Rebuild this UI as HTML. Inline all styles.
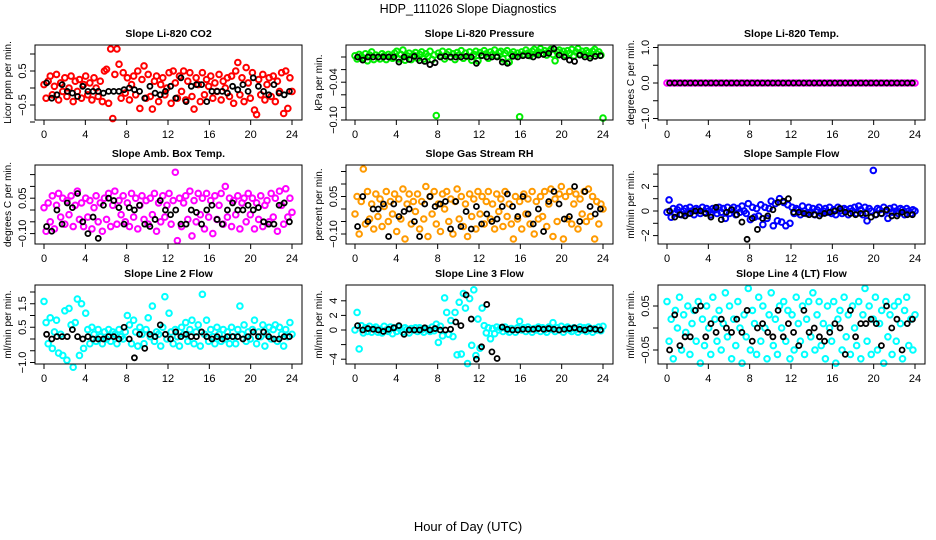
<!DOCTYPE html>
<html><head><meta charset="utf-8"><style>
html,body{margin:0;padding:0;background:#fff}
svg{display:block}
text{font-family:"Liberation Sans",sans-serif;fill:#000}
</style></head><body>
<svg id="chart" width="936" height="540" viewBox="0 0 936 540" xmlns="http://www.w3.org/2000/svg">
<text x="468" y="13" text-anchor="middle" font-size="12.5">HDP_111026  Slope Diagnostics</text>
<text x="468" y="531" text-anchor="middle" font-size="13">Hour of Day (UTC)</text>
<g id="panels"></g>
</svg>
<script>
const xTicks=[0,4,8,12,16,20,24];
const co2Color=[0.1,-0.3,0.2,0.35,-0.2,0.05,0.4,-0.35,0.15,-0.1,0.3,-0.25,0.0,0.35,-0.4,0.2,-0.1,0.25,-0.3,0.1,0.35,-0.2,0.15,-0.35,0.3,0.0,-0.25,0.2,-0.4,0.5,0.55,-0.45,1.15,-0.9,0.4,1.15,0.7,-0.3,0.45,-0.15,0.3,-0.35,0.1,0.35,-0.2,0.5,-0.6,0.25,0.65,-0.3,0.4,-0.25,-0.62,0.2,0.35,-0.4,0.1,0.3,-0.2,0.0,0.45,-0.45,0.5,0.15,-0.3,0.35,-0.1,0.5,-0.35,0.2,0.45,-0.25,-0.62,0.3,0.1,-0.4,0.45,-0.2,0.25,0.05,0.35,-0.3,0.15,-0.1,0.4,-0.35,0.2,0.0,0.3,-0.25,0.35,-0.45,0.5,0.75,-0.2,0.3,-0.4,0.6,0.15,-0.3,0.45,-0.65,-0.78,0.25,-0.2,0.4,-0.35,0.1,0.3,-0.25,0.35,-0.4,0.2,-0.1,0.45,-0.75,0.5,-0.6,0.3,-0.1];
const co2Black=[0.15,-0.3,-0.2,0.1,-0.1,-0.15,-0.25,0.05,-0.1,-0.1,-0.1,-0.15,-0.1,-0.1,-0.1,-0.05,0.0,-0.05,-0.1,-0.3,0.05,-0.15,-0.2,-0.1,0.05,-0.3,0.3,-0.4,0.05,0.1,0.1,-0.4,-0.1,-0.1,-0.1,-0.15,0.05,-0.05,0.1,-0.1,0.3,0.05,-0.1,-0.2,0.1,-0.15,-0.2,-0.1];
const presColor=[0.002,-0.003,0.004,0.001,-0.002,0.005,-0.006,0.003,0.008,-0.004,0.003,0.000,-0.003,0.005,0.002,-0.004,0.004,0.001,-0.002,0.006,0.009,-0.003,0.004,0.011,-0.005,0.002,0.006,-0.004,0.003,0.007,-0.002,0.004,0.008,-0.003,0.005,0.001,0.009,-0.004,0.003,-0.093,0.006,0.002,0.009,-0.003,0.004,0.008,0.000,0.005,-0.004,0.007,0.003,0.010,-0.002,0.006,0.001,0.008,-0.005,0.004,0.009,-0.006,0.007,0.003,0.010,0.005,-0.002,0.008,0.004,0.011,0.002,0.007,0.009,-0.003,0.006,0.010,-0.008,0.004,0.008,0.002,0.006,-0.095,0.008,0.004,0.011,0.006,0.002,0.009,0.012,0.005,0.008,0.013,0.006,0.010,0.003,0.009,0.012,0.004,-0.006,0.008,0.011,0.005,0.009,0.003,0.010,0.006,0.012,0.002,0.008,0.013,0.005,0.009,0.004,0.010,0.007,0.002,0.009,0.012,0.005,0.008,0.003,-0.097];
const presBlack=[0,-0.005,0,0,0,0,0,0,-0.008,0,-0.004,0.001,-0.006,-0.007,-0.012,-0.009,0,0.001,0,0,0,0.001,0,-0.01,0.002,0,0,0,-0.008,-0.01,0.001,0,0.002,0.002,0,0.003,0.004,0.006,0.013,0.003,0,-0.005,-0.007,0.003,0,-0.002,0.001,0.002];
const tempColor=[0,0,0,0,0,0,0,0,0,0,0,0,0,0,0,0,0,0,0,0,0,0,0,0,0,0,0,0,0,0,0,0,0,0,0,0,0,0,0,0,0,0,0,0,0,0,0,0,0,0,0,0,0,0,0,0,0,0,0,0,0,0,0,0,0,0,0,0,0,0,0,0];
const tempBlack=[0,0,0,0,0,0,0,0,0,0,0,0,0,0,0,0,0,0,0,0,0,0,0,0,0,0,0,0,0,0,0,0,0,0,0,0,0,0,0,0,0,0,0,0,0,0,0,0];
const ambColor=[0.01,-0.09,0.03,-0.05,0.06,-0.08,0.02,0.07,-0.03,0.05,-0.06,0.04,-0.02,0.06,-0.07,0.02,0.08,-0.04,0.03,-0.07,0.05,-0.03,0.04,-0.08,0.01,0.06,-0.05,0.03,-0.09,0.05,-0.04,0.07,-0.07,0.02,0.08,-0.06,0.04,-0.02,0.06,-0.05,0.03,-0.07,0.07,-0.03,0.05,-0.08,0.02,0.06,-0.04,0.04,-0.06,0.05,-0.02,0.07,-0.09,0.03,-0.05,0.06,-0.03,0.02,0.07,-0.06,0.04,0.16,-0.13,0.05,-0.07,0.03,0.06,-0.04,0.08,-0.11,0.04,-0.05,0.07,-0.02,0.05,-0.08,0.07,-0.03,0.04,-0.10,0.06,-0.04,0.02,0.07,-0.06,0.10,-0.03,0.05,-0.07,0.04,-0.02,0.06,-0.08,0.03,0.05,-0.05,0.07,-0.02,0.05,-0.08,0.03,-0.04,0.06,-0.07,0.02,0.04,-0.05,0.07,-0.03,0.05,-0.09,0.08,0.02,-0.06,0.09,-0.03,0.05,-0.01];
const ambBlack=[-0.07,-0.09,0.0,-0.06,0.03,0.01,0.07,-0.05,-0.1,-0.03,-0.12,0.02,0.05,0.04,0.01,-0.06,0.01,0.0,0.02,-0.06,-0.07,-0.04,0.04,0.0,-0.02,0.0,-0.06,-0.06,0.0,-0.01,-0.06,0.0,0.02,-0.04,-0.06,0.0,0.03,0.0,0.0,0.02,0.0,0.01,-0.05,-0.06,-0.06,0.02,0.03,-0.05];
const rhColor=[-0.02,0.05,-0.10,0.03,0.16,-0.06,0.07,-0.04,0.02,-0.08,0.06,-0.03,0.04,-0.07,0.01,0.07,-0.05,0.03,-0.02,0.06,-0.09,0.04,-0.04,0.08,-0.12,0.02,0.06,-0.06,0.03,-0.01,0.06,-0.08,0.03,-0.04,0.09,-0.11,0.05,-0.02,0.07,-0.06,0.02,-0.09,0.06,0.00,0.07,-0.05,0.04,-0.10,0.03,0.08,-0.04,0.05,-0.07,0.02,-0.11,0.06,-0.03,0.04,-0.08,0.07,-0.02,0.05,-0.06,0.03,0.07,-0.04,0.02,-0.08,0.06,-0.01,0.04,-0.07,0.07,-0.03,0.02,-0.06,-0.12,0.05,-0.04,0.03,-0.08,0.06,-0.02,0.04,-0.06,0.07,-0.10,0.03,-0.04,0.05,-0.03,0.07,-0.07,0.02,0.08,-0.11,0.04,-0.05,0.06,0.09,-0.12,0.05,-0.04,0.07,-0.06,0.02,0.06,-0.08,0.04,-0.02,0.07,-0.05,0.08,-0.03,0.05,-0.12,0.03,-0.06,0.02,0.00];
const rhBlack=[-0.07,0.05,-0.05,0.0,0.0,0.02,-0.11,0.02,-0.03,-0.01,0.0,-0.05,-0.11,0.02,0.05,0.01,0.02,0.03,-0.08,0.03,-0.07,-0.01,-0.08,0.01,-0.06,-0.02,-0.05,-0.04,0.01,0.06,0.01,-0.03,0.05,-0.02,-0.06,0.00,-0.09,0.03,0.07,0.02,-0.04,-0.03,0.09,-0.05,0.07,0.01,-0.02,0.0];
const flowColor=[-0.1,0.9,-0.5,0.2,-0.2,0.1,0.3,-0.3,0.0,0.2,-0.2,0.3,0.0,-0.3,0.2,0.1,-0.2,0.3,-0.1,0.2,0.0,-0.3,0.2,0.1,-0.2,0.3,-0.1,0.2,-0.6,0.3,-0.2,0.1,0.3,-0.3,0.2,-0.1,0.4,0.0,-0.2,0.6,-0.7,0.3,-0.5,0.2,-0.4,0.5,-1.1,0.3,-0.6,0.2,0.8,-1.2,0.6,-0.8,1.0,-0.9,0.7,-1.2,0.5,-1.0,0.3,-0.2,0.2,0.1,-0.3,0.4,0.0,-0.2,0.3,-0.1,0.2,-0.3,0.1,0.3,-0.2,0.0,0.2,-0.1,0.3,-0.2,0.1,-0.3,0.3,0.0,-0.2,0.2,0.1,-0.3,0.2,0.0,0.3,-0.2,0.4,0.1,-0.3,0.3,-0.8,0.2,0.0,3.3,-0.3,0.2,0.1,-0.2,0.3,0.0,-0.6,0.2,-0.1,0.3,0.0,-0.2,0.2,0.1,-0.3,0.2,0.0,-0.2,0.1,0.0];
const flowBlack=[0.0,-0.5,-0.3,-0.4,-0.2,0.0,0.0,-0.2,-0.5,0.3,-0.7,-0.1,0.1,-0.3,-0.9,-2.3,-0.6,-1.5,-0.6,-0.4,0.1,0.7,0.8,1.0,-0.1,-0.1,-0.2,-0.3,-0.3,-0.4,-0.2,-0.1,0.0,0.2,-0.1,-0.2,-0.3,-0.2,-0.2,-0.5,-0.3,-0.2,0.1,-0.4,-0.4,-0.1,-0.3,-0.3];
const line2Color=[1.6,0.7,-0.2,0.9,-0.4,0.3,0.8,-0.6,0.2,-0.7,1.2,-0.9,1.3,0.6,-1.2,0.7,1.7,-0.7,1.5,-0.4,1.1,0.4,-0.2,0.5,0.2,-0.1,0.4,0.1,-0.2,0.3,0.0,0.4,-0.1,0.3,0.2,-0.2,0.4,0.1,0.0,0.3,1.0,0.6,-0.2,0.8,0.3,-0.3,0.5,0.2,-0.2,0.4,0.9,0.1,1.4,-0.1,0.3,0.2,-0.3,0.5,1.8,0.0,1.1,0.3,-0.2,0.4,0.1,-0.3,0.5,0.2,0.7,-0.1,0.4,0.8,-0.2,0.3,0.6,-0.3,1.9,0.2,0.8,-0.1,0.4,0.1,-0.2,0.5,0.2,-0.1,0.4,0.0,0.3,-0.2,0.5,0.1,-0.2,0.4,1.4,0.2,0.6,-0.1,0.3,0.0,0.4,0.8,-0.2,0.3,0.1,0.6,-0.3,0.2,0.5,0.0,0.4,0.6,-0.1,0.5,0.2,-0.3,0.4,0.1,0.7,0.2];
const line2Black=[0.2,0.0,0.1,0.1,0.1,0.4,0.1,0.0,0.1,0.0,0.0,0.0,0.1,0.1,0.0,0.5,0.0,-0.8,0.2,-0.4,0.2,0.1,0.6,0.2,0.0,0.3,0.1,0.2,0.1,0.1,0.3,0.1,0.0,0.1,0.0,0.1,0.1,0.1,0.0,0.1,0.3,0.1,0.3,0.1,0.0,0.0,0.1,0.1];
const line3Color=[0.0,2.4,-2.6,0.6,-0.4,0.3,-0.2,0.5,-0.3,0.2,0.4,-0.3,0.1,-0.4,0.5,0.0,-0.2,0.4,-0.5,0.3,-0.2,0.4,0.0,-0.3,0.3,0.1,-0.4,0.2,0.0,0.3,-0.2,0.3,0.0,-0.3,0.2,0.1,-0.2,0.4,-0.1,0.8,-1.7,0.5,-0.8,4.4,2.4,-0.6,1.3,-0.9,2.4,-3.4,3.8,-3.3,5.0,3.0,-4.6,4.3,-2.1,5.5,-3.5,1.5,-2.5,3.0,0.6,-0.4,0.3,-1.2,0.2,-0.5,0.4,0.0,0.3,-0.2,0.4,0.0,-0.3,0.2,0.1,-0.3,0.3,1.2,0.0,0.3,-0.2,0.4,0.1,-0.3,0.2,0.0,0.4,-0.2,0.3,0.0,-0.3,0.4,0.1,1.0,-0.2,0.3,0.0,0.5,-0.3,0.2,0.4,0.0,-0.2,0.3,0.1,-0.3,0.4,0.0,0.3,-0.2,0.4,0.1,-0.3,0.2,0.0,0.4,-0.1,0.5];
const line3Black=[0.6,0.0,0.2,0.1,0.0,-0.2,0.1,0.3,0.6,-0.6,0.0,0.0,0.0,0.3,0.0,0.2,0.0,0.0,0.1,1.1,0.6,4.8,1.5,-4.0,-2.3,3.5,-3.0,-3.9,0.4,0.1,0.0,0.0,0.1,0.1,0.1,0.2,0.1,0.2,0.1,0.0,0.1,0.2,0.3,0.1,0.0,0.2,0.1,0.0];
const line4Color=[0.06,-0.03,0.02,-0.07,0.04,0.00,0.07,-0.05,0.03,-0.01,0.05,-0.06,0.01,0.04,-0.03,0.06,-0.08,0.02,-0.04,0.05,0.00,-0.06,0.07,0.02,-0.03,0.04,-0.05,0.01,0.08,-0.02,0.05,-0.07,0.02,-0.04,0.06,0.00,-0.08,0.03,-0.02,0.09,-0.05,0.04,0.01,-0.06,0.07,-0.03,0.05,0.00,-0.07,0.03,0.08,-0.04,0.02,-0.06,0.05,0.00,0.06,-0.03,0.04,-0.07,0.03,-0.05,0.07,0.01,-0.03,0.05,-0.06,0.02,0.06,-0.02,0.08,-0.05,0.03,0.06,-0.04,0.01,-0.07,0.05,0.00,-0.03,0.06,-0.08,0.02,0.04,-0.05,0.07,-0.02,0.03,-0.06,0.05,0.00,-0.04,0.06,-0.07,0.03,0.09,-0.03,0.05,-0.06,0.02,0.07,-0.05,0.01,0.04,-0.08,0.06,-0.02,0.03,-0.06,0.05,-0.03,0.06,0.01,-0.07,0.04,0.07,-0.04,0.02,-0.05,0.03];
const line4Black=[-0.05,0.03,-0.04,-0.02,-0.02,0.04,0.05,-0.02,0.01,-0.01,0.02,0.0,-0.01,0.02,-0.01,0.04,-0.03,0.00,0.01,-0.01,-0.02,0.04,-0.02,0.01,-0.01,-0.04,0.04,-0.01,0.0,-0.02,-0.03,-0.01,0.01,0.0,-0.06,0.04,-0.02,0.01,0.01,0.02,0.01,-0.04,0.05,0.0,0.02,-0.05,0.01,0.02];

const panels=[
 {name:'co2',title:'Slope Li-820 CO2',ylab:'Licor ppm per min.',left:35,top:45,bot:120,y0:88,sc:34,ticks:[-1,-0.5,0,0.5,1],labels:[-0.5,0.5],fmt:1,color:'#ff0000',c:co2Color,b:co2Black},
 {name:'pressure',title:'Slope Li-820 Pressure',ylab:'kPa per min.',left:346,top:45,bot:120,y0:57,sc:630,ticks:[0,-0.02,-0.04,-0.06,-0.08,-0.1],labels:[-0.04,-0.1],fmt:2,color:'#00ee00',c:presColor,b:presBlack},
 {name:'temp',title:'Slope Li-820 Temp.',ylab:'degrees C per min.',left:658,top:45,bot:120,y0:83,sc:35.5,ticks:[-1,-0.5,0,0.5,1],labels:[-1,0,1],fmt:1,color:'#ff00ff',c:tempColor,b:tempBlack},
 {name:'amb-box-temp',title:'Slope Amb. Box Temp.',ylab:'degrees C per min.',left:35,top:165,bot:244,y0:210,sc:236,ticks:[-0.1,-0.05,0,0.05,0.1,0.15],labels:[-0.1,0.05],fmt:2,color:'#ff00ff',c:ambColor,b:ambBlack},
 {name:'gas-stream-rh',title:'Slope Gas Stream RH',ylab:'percent per min.',left:346,top:165,bot:244,y0:209,sc:250,ticks:[-0.1,-0.05,0,0.05,0.1,0.15],labels:[-0.1,0.05],fmt:2,color:'#ff9a00',c:rhColor,b:rhBlack},
 {name:'sample-flow',title:'Slope Sample Flow',ylab:'ml/min per min.',left:658,top:165,bot:244,y0:211,sc:12.3,ticks:[-2,-1,0,1,2,3],labels:[-2,0,2],fmt:0,color:'#0000ff',c:flowColor,b:flowBlack},
 {name:'line2-flow',title:'Slope Line 2 Flow',ylab:'ml/min per min.',left:35,top:285,bot:364,y0:339,sc:23.5,ticks:[-1,-0.5,0,0.5,1,1.5,2],labels:[-1,0.5,1.5],fmt:1,color:'#00ffff',c:line2Color,b:line2Black},
 {name:'line3-flow',title:'Slope Line 3 Flow',ylab:'ml/min per min.',left:346,top:285,bot:364,y0:330,sc:7.3,ticks:[-4,-2,0,2,4],labels:[-4,0,2,4],fmt:0,color:'#00ffff',c:line3Color,b:line3Black},
 {name:'line4-flow',title:'Slope Line 4 (LT) Flow',ylab:'ml/min per min.',left:658,top:285,bot:364,y0:328,sc:440,ticks:[-0.05,0,0.05],labels:[-0.05,0.05],fmt:2,color:'#00ffff',c:line4Color,b:line4Black}
];
const NS='http://www.w3.org/2000/svg';
const root=document.getElementById('panels');
function mk(tag,attrs,parent){const e=document.createElementNS(NS,tag);for(const k in attrs)e.setAttribute(k,attrs[k]);parent.appendChild(e);return e;}
panels.forEach(p=>{
  const W=267;
  const g=mk('g',{},root);
  
  
  const xS=h=>p.left+9+h*248/24;
  const yS=v=>p.y0-v*p.sc;
  const t=mk('text',{x:p.left+W/2,y:p.top-8,'text-anchor':'middle','font-size':'10.5','font-weight':'bold'},g);
  t.textContent=p.title;
  
  
  const yl=mk('text',{transform:`translate(${p.left-24},${(p.top+p.bot)/2}) rotate(-90)`,'text-anchor':'middle','font-size':'10'},g);
  yl.textContent=p.ylab;
  
  
  const n=p.c.length;
  p.c.forEach((v,i)=>{
    const h=i*24/(n-1);
    const c=mk('circle',{cx:xS(h),cy:yS(v),r:2.8,fill:'none',stroke:p.color,'stroke-width':2},g);
    
    
  });
  p.b.forEach((v,i)=>{
    const h=0.25+i*0.5;
    const c=mk('circle',{cx:xS(h),cy:yS(v),r:2.5,fill:'none',stroke:'#000','stroke-width':1.8},g);
    
    
  });
  const box=mk('rect',{x:p.left,y:p.top,width:W,height:p.bot-p.top,fill:'none',stroke:'#000','stroke-width':1},g);
  
  
  xTicks.forEach(h=>{
    mk('line',{x1:xS(h),x2:xS(h),y1:p.bot,y2:p.bot+5,stroke:'#000'},g);
    const tl=mk('text',{x:xS(h),y:p.bot+18,'text-anchor':'middle','font-size':'11'},g);
    tl.textContent=h;
    
    
  });
  p.ticks.forEach(v=>{
    mk('line',{x1:p.left-5,x2:p.left,y1:yS(v),y2:yS(v),stroke:'#000'},g);
  });
  p.labels.forEach(v=>{
    const tl=mk('text',{transform:`translate(${p.left-9},${yS(v)}) rotate(-90)`,'text-anchor':'middle','font-size':'11'},g);
    tl.textContent=v.toFixed(p.fmt).replace('-','\u2212');
    
    
  });
});
</script>
</body></html>
